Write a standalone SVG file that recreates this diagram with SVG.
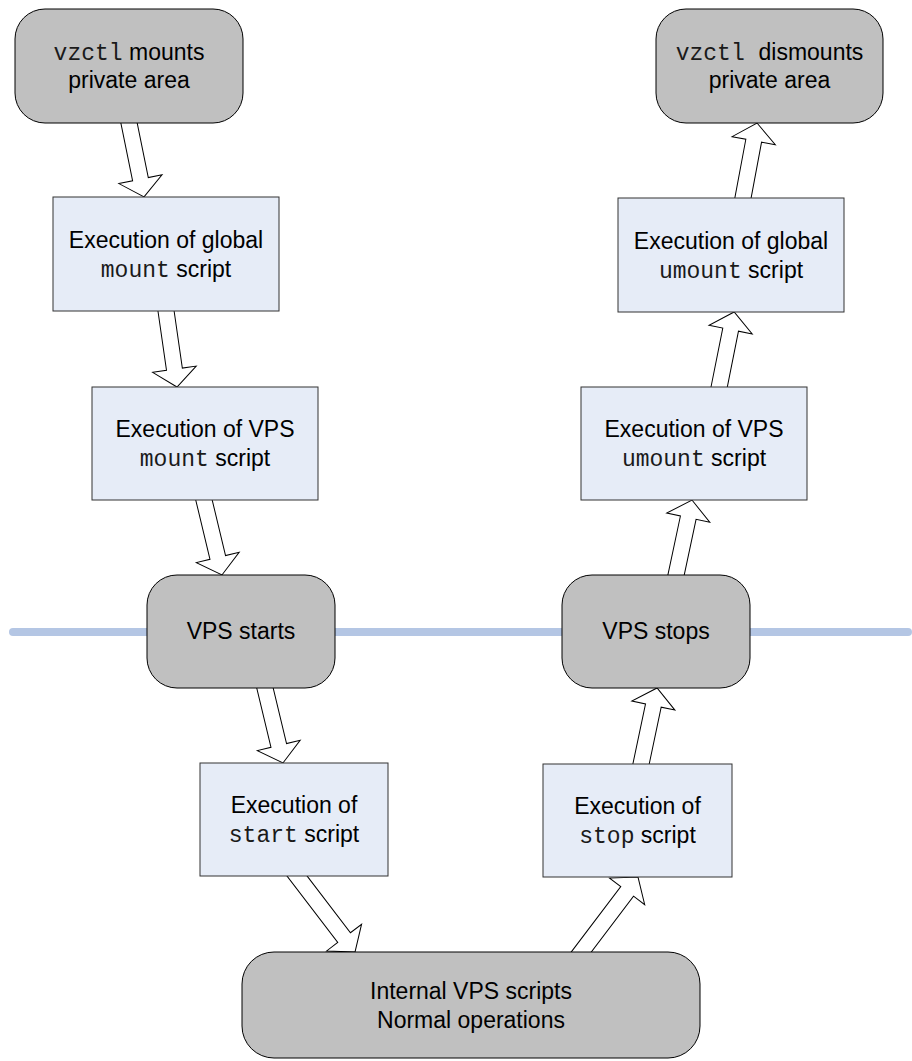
<svg xmlns="http://www.w3.org/2000/svg" width="912" height="1061" viewBox="0 0 912 1061">
<style>
  .t { font-family: "Liberation Sans", Arial, sans-serif; font-size: 23px; fill: #000; }
  .m { font-family: "Liberation Mono", "Courier New", monospace; fill: #1a1a1a; }
  .round { fill: #c0c0c0; stroke: #000; stroke-width: 1; }
  .box { fill: #e6ecf7; stroke: #333; stroke-width: 1; }
  .arr { fill: #fff; stroke: #000; stroke-width: 1; stroke-linejoin: miter; }
</style>
<rect width="912" height="1061" fill="#fff"/>
<line x1="13" y1="632" x2="908" y2="632" stroke="#b4c6e4" stroke-width="8" stroke-linecap="round"/>
<g id="connectors">
  <path class="arr" transform="translate(127.4,115) rotate(78.5)" d="M0,-8 H65.5 V-22 L83.5,0 L65.5,22 V8 H0 Z"/>
  <path class="arr" transform="translate(164.9,303.1) rotate(81.8)" d="M0,-8 H66.8 V-22 L84.8,0 L66.8,22 V8 H0 Z"/>
  <path class="arr" transform="translate(202.1,492.2) rotate(76.5)" d="M0,-8 H67.1 V-22 L85.1,0 L67.1,22 V8 H0 Z"/>
  <path class="arr" transform="translate(263.1,680.2) rotate(76.5)" d="M0,-8 H67.1 V-22 L85.1,0 L67.1,22 V8 H0 Z"/>
  <path class="arr" transform="translate(290.9,868) rotate(52.6)" d="M0,-8 H87.6 V-22 L105.6,0 L87.6,22 V8 H0 Z"/>
  <path class="arr" transform="translate(576,959) rotate(-52.9)" d="M0,-8 H84.8 V-22 L102.8,0 L84.8,22 V8 H0 Z"/>
  <path class="arr" transform="translate(639.4,771.8) rotate(-78.1)" d="M0,-8 H67.7 V-22 L85.7,0 L67.7,22 V8 H0 Z"/>
  <path class="arr" transform="translate(674.4,582.8) rotate(-78.0)" d="M0,-8 H66.6 V-22 L84.6,0 L66.6,22 V8 H0 Z"/>
  <path class="arr" transform="translate(717.6,394.8) rotate(-78.7)" d="M0,-8 H66.5 V-22 L84.5,0 L66.5,22 V8 H0 Z"/>
  <path class="arr" transform="translate(741.5,205.9) rotate(-79.4)" d="M0,-8 H66.3 V-22 L84.3,0 L66.3,22 V8 H0 Z"/>
</g>
<g id="node-mount-private">
  <rect class="round" x="15" y="9" width="228" height="114" rx="30" ry="30"/>
  <text class="t" x="129" y="60" text-anchor="middle"><tspan class="m">vzctl</tspan> mounts</text>
  <text class="t" x="129" y="88" text-anchor="middle">private area</text>
</g>
<g id="node-global-mount">
  <rect class="box" x="53" y="197" width="226" height="114"/>
  <text class="t" x="166" y="248" text-anchor="middle">Execution of global</text>
  <text class="t" x="166" y="277" text-anchor="middle"><tspan class="m">mount</tspan> script</text>
</g>
<g id="node-vps-mount">
  <rect class="box" x="92" y="387" width="226" height="113"/>
  <text class="t" x="205" y="437" text-anchor="middle">Execution of VPS</text>
  <text class="t" x="205" y="466" text-anchor="middle"><tspan class="m">mount</tspan> script</text>
</g>
<g id="node-vps-starts">
  <rect class="round" x="147" y="575" width="188" height="113" rx="30" ry="30"/>
  <text class="t" x="241" y="639" text-anchor="middle">VPS starts</text>
</g>
<g id="node-start-script">
  <rect class="box" x="200" y="763" width="188" height="113"/>
  <text class="t" x="294" y="813" text-anchor="middle">Execution of</text>
  <text class="t" x="294" y="842" text-anchor="middle"><tspan class="m">start</tspan> script</text>
</g>
<g id="node-internal">
  <rect class="round" x="242" y="952" width="458" height="106" rx="32" ry="32"/>
  <text class="t" x="471" y="999" text-anchor="middle">Internal VPS scripts</text>
  <text class="t" x="471" y="1028" text-anchor="middle">Normal operations</text>
</g>
<g id="node-stop-script">
  <rect class="box" x="543" y="764" width="189" height="113"/>
  <text class="t" x="637.5" y="814" text-anchor="middle">Execution of</text>
  <text class="t" x="637.5" y="843" text-anchor="middle"><tspan class="m">stop</tspan> script</text>
</g>
<g id="node-vps-stops">
  <rect class="round" x="562" y="575" width="188" height="113" rx="30" ry="30"/>
  <text class="t" x="656" y="639" text-anchor="middle">VPS stops</text>
</g>
<g id="node-vps-umount">
  <rect class="box" x="581" y="387" width="226" height="113"/>
  <text class="t" x="694" y="437" text-anchor="middle">Execution of VPS</text>
  <text class="t" x="694" y="466" text-anchor="middle"><tspan class="m">umount</tspan> script</text>
</g>
<g id="node-global-umount">
  <rect class="box" x="618" y="198" width="226" height="114"/>
  <text class="t" x="731" y="249" text-anchor="middle">Execution of global</text>
  <text class="t" x="731" y="278" text-anchor="middle"><tspan class="m">umount</tspan> script</text>
</g>
<g id="node-dismount-private">
  <rect class="round" x="656" y="9" width="227" height="114" rx="30" ry="30"/>
  <text class="t" x="769.5" y="60" text-anchor="middle"><tspan class="m">vzctl&#160;</tspan>dismounts</text>
  <text class="t" x="769.5" y="88" text-anchor="middle">private area</text>
</g>
</svg>
